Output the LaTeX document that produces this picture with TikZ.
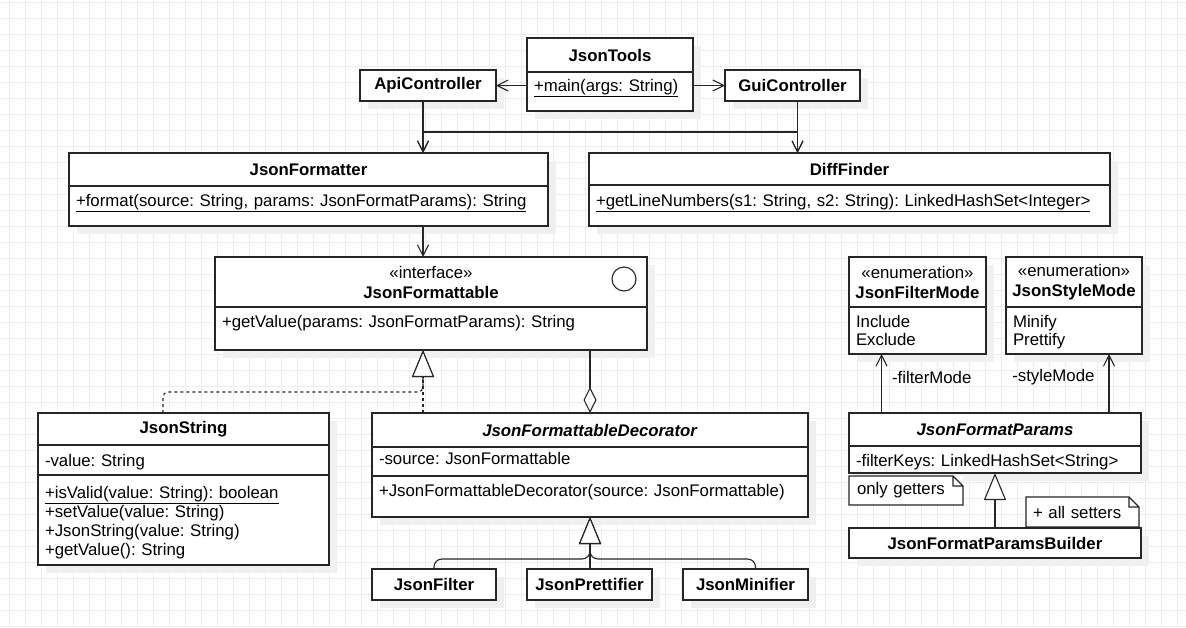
\documentclass[tikz,border=0pt]{standalone}
\usepackage{fontspec}
\setmainfont{Liberation Sans}
\frenchspacing
\usetikzlibrary{positioning,arrows.meta,shadows}

\begin{document}
\begin{tikzpicture}[
  x=1pt, y=-1pt,
  font=\fontsize{16.8}{19}\selectfont,
  ink/.style={black!85, line width=1.1pt},
  gridline/.style={black!7, line width=1pt},
  boxshadow/.style={drop shadow={shadow xshift=8pt, shadow yshift=-8pt, fill=black!6, opacity=1}},
  hd/.style={ink, draw, fill=white, boxshadow, anchor=north west, inner sep=0pt, outer sep=0pt, text=black, font=\fontsize{16.8}{20}\selectfont\bfseries, align=center},
  cmp/.style={ink, draw, fill=white, boxshadow, anchor=north west, inner xsep=7pt, inner ysep=0pt, outer sep=0pt, text=black, align=left},
  memo/.style={fill=white, anchor=north west, inner xsep=8pt, inner ysep=0pt, outer sep=0pt, text=black, align=left},
  lbl/.style={inner sep=0pt, text=black},
  assoc/.style={ink, -{Straight Barb[length=11pt, width=11pt]}},
  gener/.style={ink, -{Triangle[fill=white, length=27pt, width=22pt]}},
  realize/.style={gener, dash pattern=on 3pt off 3pt},
  aggr/.style={ink, -{Diamond[fill=white, length=26pt, width=13pt]}}]
\useasboundingbox (0,0) rectangle (1186,627);
\fill[white] (0,0) rectangle (1186,627);
\foreach \gx in {9,25,...,1186} \draw[gridline] (\gx,0) -- (\gx,627);
\foreach \gy in {2,18,...,627} \draw[gridline] (0,\gy) -- (1186,\gy);

% entry points
\node[hd, minimum width=166pt, minimum height=34pt] (jt) at (527,38) {JsonTools};
\node[cmp, text width=152pt, text height=19pt, text depth=20pt, below=0pt of jt] (jt-m) {\underline{+main(args: String)}};
\node[hd, minimum width=136pt, minimum height=31pt] (api) at (360,70) {ApiController};
\node[hd, minimum width=135pt, minimum height=31pt] (gui) at (725,70) {GuiController};
\coordinate (api-out) at ([xshift=-5pt]api.south);
\coordinate (gui-out) at ([xshift=5pt]gui.south);

% services
\node[hd, minimum width=479pt, minimum height=33pt] (fmt) at (69,153) {JsonFormatter};
\node[cmp, text width=465pt, text height=20pt, text depth=20pt, below=0pt of fmt] (fmt-m) {\underline{+format(source: String, params: JsonFormatParams): String}};
\node[hd, minimum width=521pt, minimum height=32pt] (diff) at (589,153) {DiffFinder};
\node[cmp, text width=507pt, text height=21pt, text depth=20pt, below=0pt of diff] (diff-m) {\underline{+getLineNumbers(s1: String, s2: String): LinkedHashSet<Integer>}};

% interface
\node[hd, minimum width=432pt, minimum height=50pt] (fbl) at (215,257) {\textmd{«interface»}\\JsonFormattable};
\node[cmp, text width=418pt, text height=20pt, text depth=23pt, below=0pt of fbl] (fbl-m) {+getValue(params: JsonFormatParams): String};
\node[ink, draw, circle, minimum size=24pt, inner sep=0pt] (fbl-icon) at (624,279) {};
\coordinate (gen) at ([xshift=-8pt]fbl-m.south);

% implementations
\node[hd, minimum width=291pt, minimum height=32pt] (jstr) at (38,413) {JsonString};
\node[cmp, text width=277pt, text height=21pt, text depth=9pt, below=0pt of jstr] (jstr-a) {-value: String};
\node[cmp, text width=277pt, text height=23pt, text depth=67pt, below=0pt of jstr-a, font=\fontsize{16.8}{19}\selectfont] (jstr-m) {\underline{+isValid(value: String): boolean}\\+setValue(value: String)\\+JsonString(value: String)\\+getValue(): String};

\node[hd, minimum width=436pt, minimum height=34pt] (dec) at (372,413) {\textit{JsonFormattableDecorator}};
\node[cmp, text width=422pt, text height=17pt, text depth=12pt, below=0pt of dec] (dec-a) {-source: JsonFormattable};
\node[cmp, text width=422pt, text height=20pt, text depth=21pt, below=0pt of dec-a] (dec-m) {+JsonFormattableDecorator(source: JsonFormattable)};

\node[hd, minimum width=124pt, minimum height=31pt] (jfil) at (372,569) {JsonFilter};
\node[hd, minimum width=125pt, minimum height=31pt] (jpre) at (527,569) {JsonPrettifier};
\node[hd, minimum width=125pt, minimum height=31pt] (jmin) at (683,569) {JsonMinifier};

% params and enums
\node[hd, minimum width=137pt, minimum height=50pt] (fmode) at (849,257) {\textmd{«enumeration»}\\JsonFilterMode};
\node[cmp, text width=123pt, text height=20pt, text depth=27pt, below=0pt of fmode, font=\fontsize{16.8}{18}\selectfont] (fmode-v) {Include\\Exclude};
\node[hd, minimum width=136pt, minimum height=50pt] (smode) at (1006,257) {\textmd{«enumeration»}\\JsonStyleMode};
\node[cmp, text width=122pt, text height=20pt, text depth=27pt, below=0pt of smode, font=\fontsize{16.8}{18}\selectfont] (smode-v) {Minify\\Prettify};

\node[hd, minimum width=292pt, minimum height=33pt] (prm) at (849,413) {\textit{JsonFormatParams}};
\node[cmp, text width=278pt, text height=20pt, text depth=7pt, below=0pt of prm] (prm-a) {-filterKeys: LinkedHashSet<String>};
\node[hd, minimum width=292pt, minimum height=30pt] (bld) at (849,528) {JsonFormatParamsBuilder};

\node[memo, text width=98pt, minimum height=29pt] (nget) at (849,476) {only getters};
\node[memo, text width=99pt, inner xsep=7pt, minimum height=30pt] (nset) at (1026,497) {+ all setters};
\foreach \nt in {nget,nset}
  \draw[ink] (\nt.north west) -- ([xshift=-10pt]\nt.north east) -- ([yshift=-10pt]\nt.north east) -- (\nt.south east) -- (\nt.south west) -- cycle
    ([xshift=-10pt]\nt.north east) -- ([xshift=-10pt,yshift=-10pt]\nt.north east) -- ([yshift=-10pt]\nt.north east);

% connectors
\draw[assoc] (api.east -| jt-m.west) -- (api.east);
\draw[assoc] (gui.west -| jt-m.east) -- (gui.west);
\draw[assoc] (api-out) -- (api-out |- fmt.north);
\draw[assoc] (api-out) -- ++(0,31) -| (gui-out |- diff.north);
\draw[assoc] (gui-out) -- (gui-out |- diff.north);
\draw[assoc] (gui-out) -- ++(0,31) -| (api-out |- fmt.north);
\draw[assoc] (gen |- fmt-m.south) -- (gen |- fbl.north);

\draw[realize, rounded corners=5pt] ([xshift=-20.5pt]jstr.north) -- ++(0,-21) -| (gen);
\draw[realize] (gen |- dec.north) -- (gen);
\draw[aggr] (dec.north |- fbl-m.south) -- (dec.north);

\draw[gener, rounded corners=8pt] (jfil.north) -- ++(0,-10) -| (dec-m.south);
\draw[gener] (dec-m.south |- jpre.north) -- (dec-m.south);
\draw[gener, rounded corners=8pt] ([xshift=10pt]jmin.north) -- ++(0,-10) -| (dec-m.south);

\draw[assoc] ([xshift=-36pt]fmode-v.south |- prm.north) -- ([xshift=-36pt]fmode-v.south) node[lbl, pos=0.6, right=10pt] {-filterMode};
\draw[assoc] ([xshift=35pt]smode-v.south |- prm.north) -- ([xshift=35pt]smode-v.south) node[lbl, pos=0.6, left=14pt] {-styleMode};
\draw[gener] (bld.north) -- (prm-a.south);
\end{tikzpicture}
\end{document}
